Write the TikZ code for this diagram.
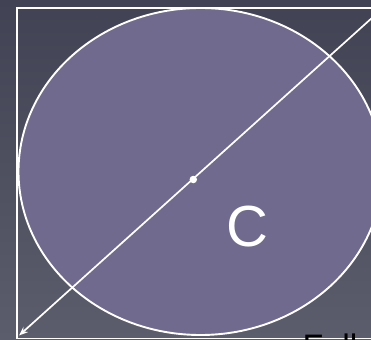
\documentclass[tikz,border=0pt]{standalone}
\usepackage{fontspec}
\setmainfont{Liberation Sans}
\usetikzlibrary{arrows.meta}
\definecolor{bgtop}{HTML}{414354}
\definecolor{bgbot}{HTML}{5B5D6C}
\definecolor{ellfill}{HTML}{706A8E}
\tikzset{
  frame/.style={draw=white, line width=1.7pt},
  ellstyle/.style={draw=white, line width=1.9pt, fill=ellfill},
  diag/.style={draw=white, line width=1.7pt, -{Stealth[length=9pt,width=7pt]}},
  centerdot/.style={circle, fill=white, inner sep=0pt, minimum size=7.5pt},
  biglabel/.style={text=white, font=\fontsize{58}{60}\selectfont, inner sep=0pt},
  caption/.style={text=black, font=\fontsize{34}{40}\selectfont, inner sep=0pt, anchor=base west}
}
\begin{document}
\begin{tikzpicture}[x=1pt,y=-1pt]
\useasboundingbox (0,0) rectangle (371,339);
\clip (0,0) rectangle (371,339);
\shade[top color=bgtop, bottom color=bgbot] (0,0) rectangle (371,339);
\draw[frame] (17,8) rectangle (383,338.5);
\path[ellstyle] (200.5,171.5) ellipse [x radius=182, y radius=163.5];
\coordinate (tr) at (383,8);
\coordinate (bl) at (19,335.5);
\draw[diag] (tr) -- (bl);
\node[centerdot] (ctr) at (193.3,179.5) {};
\node[biglabel] (c) at (247.5,226.5) {C};
\node[caption] (full) at (302.5,358.5) {Full};
\end{tikzpicture}
\end{document}
